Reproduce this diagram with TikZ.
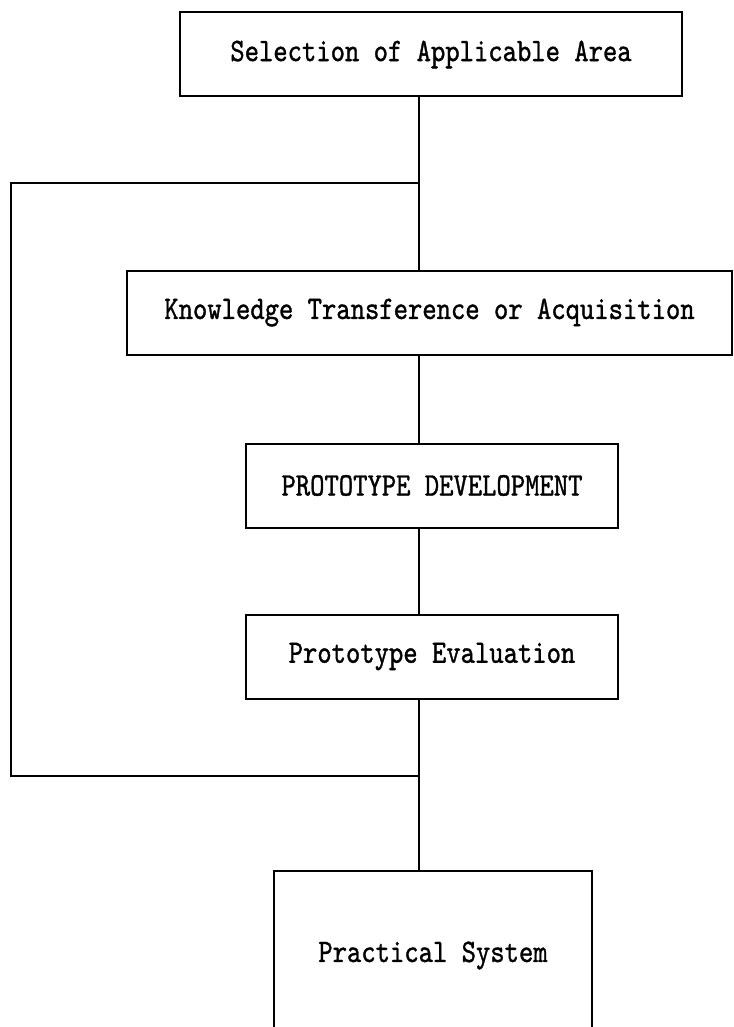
\documentclass[tikz,border=0pt]{standalone}
\usepackage{graphicx}
\usepackage{fontspec}
\setmonofont{lmmono10-regular.otf}[FakeBold=1.2]
\usepackage{tikz}
\usetikzlibrary{positioning}

\newcommand{\tallfont}[1]{\scalebox{1}[1.2]{#1}}

\begin{document}
\begin{tikzpicture}[
    x=1pt, y=1pt,
    stagebox/.style={draw=black, line width=2pt, inner sep=0pt, minimum height=84pt, font=\fontsize{27.3}{30}\selectfont\ttfamily},
    link/.style={draw=black, line width=2pt}
]
\useasboundingbox (0,0) rectangle (733,-1027);
\clip (0,0) rectangle (733,-1027);

% ==================== STAGES ====================
\node[stagebox, minimum width=502pt] (select) at (431,-54.5) {\tallfont{Selection of Applicable Area}};

\node[stagebox, minimum width=605pt, below=172pt of select, xshift=-1.5pt] (acquire) {\tallfont{Knowledge Transference or Acquisition}};

\node[stagebox, minimum width=372pt, below=87pt of acquire, xshift=2.5pt] (protodev) {\tallfont{PROTOTYPE DEVELOPMENT}};

\node[stagebox, minimum width=372pt, below=85pt of protodev] (protoeval) {\tallfont{Prototype Evaluation}};

\node[stagebox, minimum width=318pt, minimum height=170pt, below=170pt of protoeval, xshift=1pt] (practical) {\tallfont{Practical System}};

% ==================== MAIN LINE ====================
\coordinate (spine) at (419,0);
\draw[link] (select.south -| spine) -- (acquire.north -| spine);
\draw[link] (acquire.south -| spine) -- (protodev.north -| spine);
\draw[link] (protodev.south -| spine) -- (protoeval.north -| spine);
\draw[link] (protoeval.south -| spine) -- (practical.north -| spine);

% ==================== FEEDBACK LOOP ====================
\coordinate (loopin) at (419,-183);
\coordinate (loopout) at (419,-776);
\coordinate (cornertop) at (11,-183);
\coordinate (cornerbot) at (11,-776);
\draw[link] (loopin) -- (cornertop) -- (cornerbot) -- (loopout);

\end{tikzpicture}
\end{document}
